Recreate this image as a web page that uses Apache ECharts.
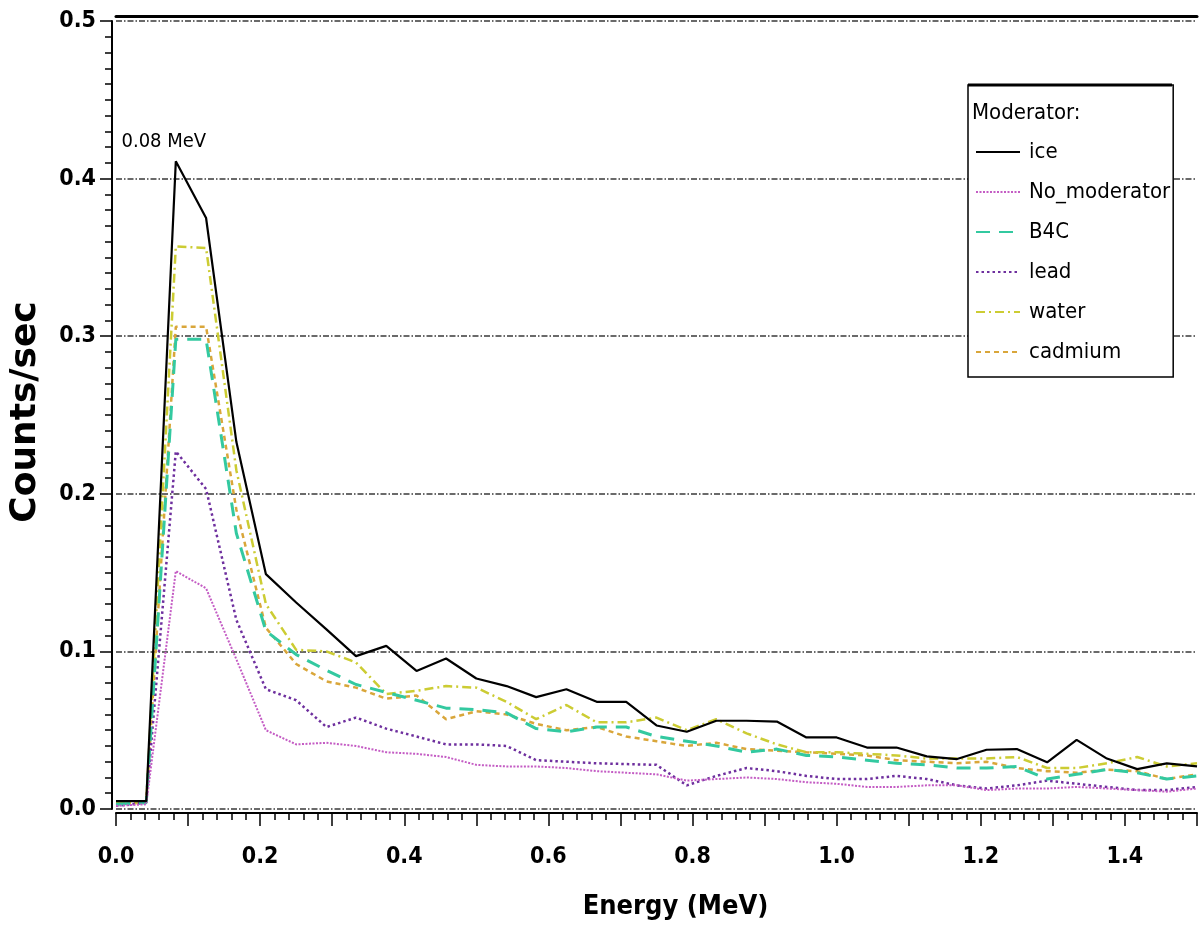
<!DOCTYPE html>
<html>
<head>
<meta charset="utf-8">
<script src="https://cdn.jsdelivr.net/npm/echarts@6/dist/echarts.min.js"></script>
<style>
  html, body { margin: 0; padding: 0; background: #fff; }
  #chart { width: 1200px; height: 945px; }
</style>
</head>
<body>
<div id="chart"></div>
<script>
// ---- Data ----
const energy = [0, 0.042, 0.083, 0.125, 0.167, 0.208, 0.25, 0.292, 0.333, 0.375, 0.417, 0.458, 0.5, 0.542, 0.583, 0.625, 0.667, 0.708, 0.75, 0.792, 0.833, 0.875, 0.917, 0.958, 1.0, 1.042, 1.083, 1.125, 1.167, 1.208, 1.25, 1.292, 1.333, 1.375, 1.417, 1.458, 1.5];
const ice = [0.005, 0.005, 0.411, 0.375, 0.233, 0.149, 0.131, 0.114, 0.097, 0.1035, 0.0876, 0.0955, 0.0828, 0.078, 0.071, 0.076, 0.068, 0.068, 0.053, 0.049, 0.056, 0.056, 0.0555, 0.0454, 0.0454, 0.039, 0.039, 0.0334, 0.0317, 0.0376, 0.038, 0.0296, 0.0439, 0.032, 0.0253, 0.029, 0.027];
const noModerator = [0.002, 0.003, 0.151, 0.140, 0.095, 0.050, 0.041, 0.042, 0.040, 0.036, 0.035, 0.033, 0.028, 0.027, 0.027, 0.026, 0.024, 0.023, 0.022, 0.018, 0.019, 0.020, 0.019, 0.017, 0.016, 0.014, 0.014, 0.015, 0.015, 0.012, 0.013, 0.013, 0.014, 0.013, 0.012, 0.011, 0.013];
const b4c = [0.003, 0.004, 0.298, 0.298, 0.175, 0.113, 0.098, 0.088, 0.079, 0.074, 0.069, 0.064, 0.063, 0.061, 0.051, 0.049, 0.052, 0.052, 0.046, 0.043, 0.040, 0.036, 0.038, 0.034, 0.033, 0.031, 0.029, 0.028, 0.026, 0.026, 0.027, 0.019, 0.022, 0.025, 0.023, 0.019, 0.021];
const lead = [0.002, 0.004, 0.227, 0.203, 0.120, 0.076, 0.069, 0.052, 0.058, 0.051, 0.046, 0.041, 0.041, 0.040, 0.031, 0.030, 0.029, 0.0285, 0.028, 0.015, 0.021, 0.026, 0.024, 0.021, 0.019, 0.019, 0.021, 0.019, 0.015, 0.013, 0.015, 0.018, 0.016, 0.014, 0.012, 0.012, 0.014];
const water = [0.004, 0.004, 0.357, 0.356, 0.215, 0.130, 0.101, 0.100, 0.093, 0.073, 0.075, 0.078, 0.077, 0.068, 0.057, 0.066, 0.055, 0.055, 0.058, 0.050, 0.057, 0.048, 0.041, 0.036, 0.036, 0.035, 0.034, 0.032, 0.032, 0.032, 0.033, 0.026, 0.026, 0.029, 0.033, 0.027, 0.029];
const cadmium = [0.003, 0.004, 0.306, 0.306, 0.190, 0.115, 0.092, 0.081, 0.077, 0.070, 0.072, 0.057, 0.062, 0.060, 0.054, 0.050, 0.052, 0.046, 0.043, 0.040, 0.042, 0.038, 0.037, 0.036, 0.035, 0.034, 0.031, 0.030, 0.029, 0.030, 0.026, 0.024, 0.023, 0.025, 0.024, 0.019, 0.022];
const seriesNames = ['ice', 'No_moderator', 'B4C', 'lead', 'water', 'cadmium'];
const yTicks = [0, 0.1, 0.2, 0.3, 0.4, 0.5];
const xLabelTicks = [0, 0.2, 0.4, 0.6, 0.8, 1.0, 1.2, 1.4];
const peakLabel = '0.08 MeV';
const legendTitle = 'Moderator:';
const xName = 'Energy (MeV)';
const yName = 'Counts/sec';

// ---- Styling ----
const NARROW = "'DejaVu Sans Condensed', 'Liberation Sans Narrow', 'Liberation Sans', sans-serif";
const pair = arr => energy.map((x, i) => [x, arr[i]]);

function mk(name, arr, color, width, type, extra) {
  return Object.assign({
    name: name,
    type: 'line',
    data: pair(arr),
    symbol: 'none',
    showSymbol: false,
    clip: true,
    lineStyle: { color: color, width: width, type: type },
    itemStyle: { color: color },
    emphasis: { disabled: true }
  }, extra || {});
}

const peakIdx = ice.indexOf(Math.max.apply(null, ice));

const chart = echarts.init(document.getElementById('chart'), null, { renderer: 'canvas' });
const option = {
  animation: false,
  backgroundColor: '#ffffff',
  grid: { left: 111, right: 0, top: 21, bottom: 136, containLabel: false },
  title: {
    text: legendTitle,
    left: 972, top: 102,
    padding: 0,
    textStyle: { fontFamily: NARROW, fontSize: 22, fontWeight: 'normal', color: '#000' },
    z: 10
  },
  legend: {
    orient: 'vertical',
    left: 968, top: 85,
    data: seriesNames,
    padding: [56, 3, 14, 7],
    itemWidth: 44, itemHeight: 14, itemGap: 18,
    backgroundColor: '#ffffff',
    borderColor: '#000', borderWidth: 1.5,
    itemStyle: { opacity: 0 },
    textStyle: { fontFamily: NARROW, fontSize: 22, color: '#000', padding: [0, 0, 0, 4] },
    selectedMode: false,
    z: 8
  },
  graphic: [{
    type: 'line', z: 100,
    shape: { x1: 968, y1: 85, x2: 1172, y2: 85 },
    style: { stroke: '#000', lineWidth: 3 }
  }],
  xAxis: [{
    type: 'value', min: 0, max: 1.5, interval: 0.1, offset: 4,
    axisLine: { show: true, onZero: false, lineStyle: { color: '#000', width: 2 } },
    axisTick: { show: true, length: 13, lineStyle: { color: '#000', width: 1.5 } },
    minorTick: { show: true, splitNumber: 5, length: 7, lineStyle: { color: '#000', width: 1.5 } },
    splitLine: { show: false },
    axisLabel: {
      margin: 33, color: '#000', fontFamily: NARROW, fontWeight: 'bold', fontSize: 23,
      formatter: v => {
        const hit = xLabelTicks.find(t => Math.abs(t - v) < 1e-6);
        return hit === undefined ? '' : hit.toFixed(1);
      }
    },
    name: xName, nameLocation: 'middle', nameGap: 80,
    nameTextStyle: { fontFamily: NARROW, fontWeight: 'bold', fontSize: 27, color: '#000', padding: [0, 0, 0, 38] }
  }, {
    type: 'value', position: 'top', min: 0, max: 1.5, offset: 5,
    axisLine: { show: true, onZero: false, lineStyle: { color: '#000', width: 3 } },
    axisTick: { show: false }, axisLabel: { show: false }, splitLine: { show: false }
  }],
  yAxis: {
    type: 'value', min: 0, max: 0.5, interval: 0.1, offset: 4,
    axisLine: { show: true, onZero: false, lineStyle: { color: '#000', width: 2 } },
    axisTick: { show: true, length: 12, lineStyle: { color: '#000', width: 1.5 } },
    minorTick: { show: true, splitNumber: 10, length: 7, lineStyle: { color: '#000', width: 1.5 } },
    splitLine: { show: true, lineStyle: { color: '#3a3a3a', width: 1.5, type: [6, 2, 1.5, 2] } },
    axisLabel: {
      margin: 16, color: '#000', fontFamily: NARROW, fontWeight: 'bold', fontSize: 23,
      formatter: v => {
        const hit = yTicks.find(t => Math.abs(t - v) < 1e-6);
        return hit === undefined ? '' : hit.toFixed(1);
      }
    },
    name: yName, nameLocation: 'middle', nameGap: 68, nameRotate: 90,
    nameTextStyle: { fontFamily: "'DejaVu Sans', sans-serif", fontWeight: 'bold', fontSize: 36, color: '#000', padding: [0, 0, 0, 6] }
  },
  series: [
    mk('cadmium', cadmium, '#d9a63a', 2.5, [5, 4]),
    mk('water', water, '#cccc33', 2.5, [9, 4, 2, 4]),
    mk('lead', lead, '#6e2f9e', 2.5, [2.5, 3]),
    mk('B4C', b4c, '#33c9a0', 3, [14, 9]),
    mk('No_moderator', noModerator, '#c45cc4', 2, [2, 1.5]),
    mk('ice', ice, '#000000', 2.2, 'solid', {
      markPoint: {
        symbol: 'circle', symbolSize: 1,
        itemStyle: { color: 'rgba(0,0,0,0)' },
        label: {
          show: true, position: 'top', distance: 9, offset: [-12, 0],
          formatter: peakLabel, color: '#000', fontFamily: NARROW, fontSize: 20
        },
        data: [{ coord: [energy[peakIdx], ice[peakIdx]] }]
      }
    })
  ]
};
chart.setOption(option);
</script>
</body>
</html>
